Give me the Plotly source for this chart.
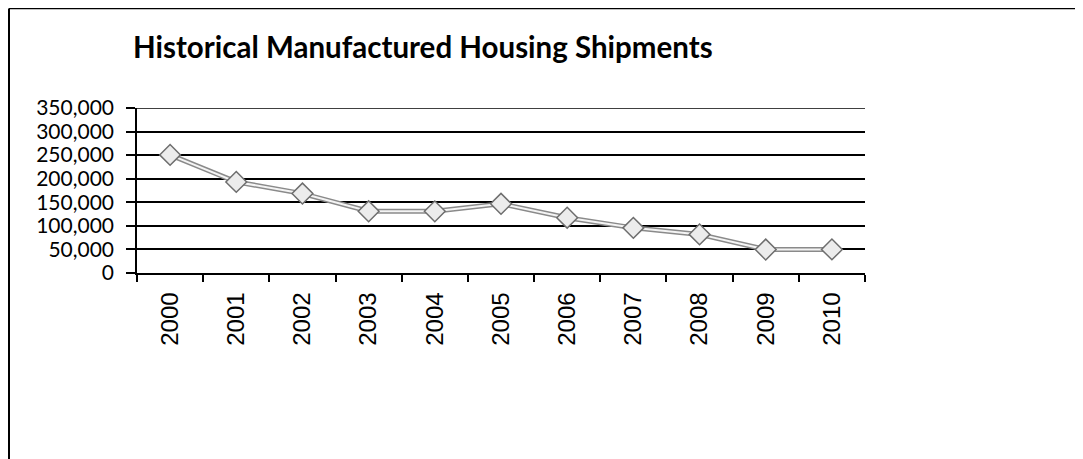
import plotly.graph_objects as go

years = ["2000", "2001", "2002", "2003", "2004", "2005", "2006", "2007", "2008", "2009", "2010"]
shipments = [250550, 193229, 168491, 130937, 130802, 146744, 117373, 95769, 81889, 49789, 50046]
y_ticks = [0, 50000, 100000, 150000, 200000, 250000, 300000, 350000]
title_text = "Historical Manufactured Housing Shipments"

W, H = 1083, 459
OFF = 8  # page body margin offset
L, R, T, B = 137 - OFF, 218 + OFF, 108 - OFF, 186 + OFF

fig = go.Figure()
fig.add_trace(go.Scatter(x=years, y=shipments, mode="lines",
                         line=dict(color="#8a8a8a", width=5), hoverinfo="skip", showlegend=False))
fig.add_trace(go.Scatter(x=years, y=shipments, mode="lines+markers",
                         line=dict(color="#f4f4f4", width=2),
                         marker=dict(symbol="diamond", size=16, color="#ececec",
                                     line=dict(color="#6e6e6e", width=1.5)),
                         showlegend=False))

fig.update_layout(
    width=W, height=H,
    margin=dict(l=L, r=R, t=T, b=B),
    paper_bgcolor="white", plot_bgcolor="white",
    title=dict(text="<b>" + title_text + "</b>", x=(133 - OFF) / W, xanchor="left",
               y=1 - (48 - OFF) / H, yanchor="middle",
               font=dict(family="Lato", size=29.5, color="black")),
    xaxis=dict(type="category", range=[-0.5, 10.5], tickson="boundaries",
               ticks="outside", ticklen=7, tickwidth=1.5, tickcolor="black",
               showline=True, linecolor="black", linewidth=1.5,
               showgrid=False, tickangle=-90, ticklabelstandoff=8,
               tickfont=dict(family="Liberation Sans", size=24, color="black")),
    yaxis=dict(range=[0, 350000], tickvals=y_ticks, tickformat=",",
               ticks="outside", ticklen=9, tickwidth=1.5, tickcolor="black",
               showline=True, linecolor="black", linewidth=1.5,
               showgrid=True, gridcolor="black", gridwidth=1.5,
               zeroline=False, ticklabelstandoff=8,
               tickfont=dict(family="Lato", size=21, color="black")),
)

# top gridline at the range edge
fig.add_shape(type="line", xref="paper", yref="y", x0=0, x1=1, y0=350000, y1=350000,
              line=dict(color="black", width=1.5))

# outer chart border (left and top edges visible)
pw = W - L - R
ph = H - T - B
def px(x):
    return (x - OFF - L) / pw
def py(y):
    return (H - B - (y - OFF)) / ph
fig.add_shape(type="line", xref="paper", yref="paper",
              x0=px(9), x1=px(9), y0=py(8.5), y1=py(H + 20),
              line=dict(color="black", width=2))
fig.add_shape(type="line", xref="paper", yref="paper",
              x0=px(9), x1=px(W + 20), y0=py(8.5), y1=py(8.5),
              line=dict(color="black", width=1.5))

fig.write_html("out.html")
